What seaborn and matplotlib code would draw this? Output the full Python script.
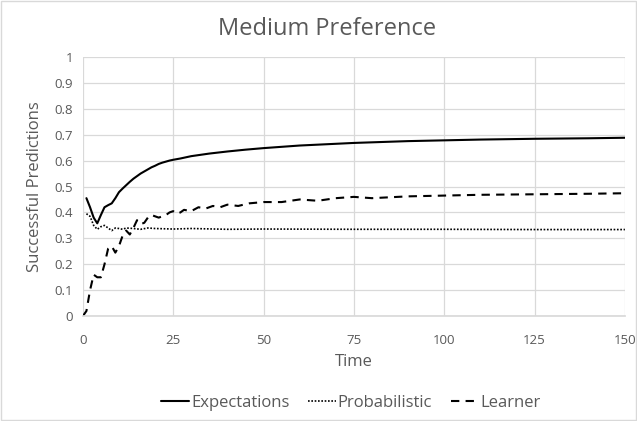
import matplotlib
matplotlib.use("Agg")
import matplotlib.pyplot as plt
import seaborn as sns
import pandas as pd
from matplotlib.lines import Line2D

sns.set_theme(style="white")
plt.rcParams['font.family'] = ['Open Sans', 'DejaVu Sans']

exp_t = [1, 2, 3, 4, 5, 6, 7, 8, 9, 10, 11, 12, 13, 14, 15, 16, 17, 18, 19, 20, 21, 22, 23, 24, 25, 27, 30, 35, 40, 45, 50, 60, 75, 90, 100, 110, 125, 140, 150]
exp_v = [0.455, 0.42, 0.38, 0.358, 0.39, 0.42, 0.428, 0.435, 0.455, 0.478, 0.492, 0.505, 0.518, 0.53, 0.54, 0.55, 0.558, 0.566, 0.574, 0.58, 0.587, 0.592, 0.596, 0.60, 0.603, 0.608, 0.617, 0.627, 0.635, 0.642, 0.648, 0.658, 0.668, 0.675, 0.678, 0.681, 0.684, 0.686, 0.688]

prob_t = [1, 2, 3, 4, 5, 6, 7, 8, 9, 10, 11, 12, 14, 16, 18, 20, 25, 30, 40, 50, 75, 100, 125, 150]
prob_v = [0.395, 0.385, 0.35, 0.335, 0.345, 0.35, 0.34, 0.33, 0.34, 0.338, 0.335, 0.34, 0.338, 0.335, 0.34, 0.338, 0.336, 0.338, 0.335, 0.336, 0.335, 0.335, 0.334, 0.334]

learn_t = [0, 1, 2, 3, 4, 5, 6, 7, 8, 9, 10, 11, 12, 13, 14, 15, 16, 17, 18, 19, 20, 21, 22, 23, 24, 25, 26, 27, 28, 30, 32, 34, 36, 38, 40, 43, 46, 50, 55, 60, 65, 70, 75, 80, 90, 100, 110, 125, 140, 150]
learn_v = [0.0, 0.02, 0.1, 0.16, 0.15, 0.15, 0.2, 0.26, 0.27, 0.245, 0.27, 0.31, 0.33, 0.315, 0.34, 0.37, 0.355, 0.36, 0.38, 0.39, 0.385, 0.38, 0.385, 0.39, 0.40, 0.405, 0.395, 0.40, 0.41, 0.405, 0.42, 0.415, 0.425, 0.42, 0.43, 0.425, 0.435, 0.44, 0.44, 0.45, 0.445, 0.455, 0.46, 0.455, 0.462, 0.465, 0.468, 0.47, 0.472, 0.474]

series_names = ["Expectations", "Probabilistic", "Learner"]

df = pd.concat([
    pd.DataFrame({"Time": exp_t, "Value": exp_v, "Series": "Expectations"}),
    pd.DataFrame({"Time": prob_t, "Value": prob_v, "Series": "Probabilistic"}),
    pd.DataFrame({"Time": learn_t, "Value": learn_v, "Series": "Learner"}),
])

fig = plt.figure(figsize=(6.37, 4.21), dpi=100)
ax = fig.add_axes([0.130, 0.249, 0.851, 0.616])

styles = {
    "Expectations": dict(ls="-", lw=1.5),
    "Probabilistic": dict(ls=(0, (1, 1)), lw=1.2),
    "Learner": dict(ls=(0, (4, 3)), lw=1.5),
}
for name in series_names:
    sub = df[df["Series"] == name]
    sns.lineplot(data=sub, x="Time", y="Value", ax=ax, color="black",
                 linestyle=styles[name]["ls"], linewidth=styles[name]["lw"],
                 estimator=None, sort=True, legend=False)

ax.set_xlim(0, 150)
ax.set_ylim(0, 1)
ax.set_xticks([0, 25, 50, 75, 100, 125, 150])
ax.set_yticks([i / 10 for i in range(11)])
ax.set_yticklabels(["0", "0.1", "0.2", "0.3", "0.4", "0.5", "0.6", "0.7", "0.8", "0.9", "1"])
ax.grid(True, color="#d9d9d9", linewidth=0.9)
ax.set_axisbelow(True)
for s in ["top", "right", "left"]:
    ax.spines[s].set_visible(False)
ax.spines["bottom"].set_color("#d9d9d9")
ax.tick_params(axis="y", length=0, labelsize=9.5, colors="#595959", pad=7)
ax.tick_params(axis="x", length=0, labelsize=9.5, colors="#595959", pad=13)
ax.set_xlabel("Time", fontsize=12, color="#595959", labelpad=5)
ax.set_ylabel("Successful Predictions", fontsize=12, color="#595959", labelpad=8)
fig.text(0.513, 0.931, "Medium Preference", ha="center", va="center", fontsize=17, color="#595959")

handles = [Line2D([], [], color="black", linestyle=styles[n]["ls"], linewidth=styles[n]["lw"]) for n in series_names]
leg = fig.legend(handles, series_names, loc="center", bbox_to_anchor=(0.551, 0.043), ncol=3,
                 frameon=False, fontsize=12, handlelength=1.7, handletextpad=0.1, columnspacing=1.1)
for t in leg.get_texts():
    t.set_color("#595959")

border = plt.Rectangle((0.002, 0.002), 0.996, 0.996, transform=fig.transFigure, fill=False,
                       edgecolor="#d9d9d9", linewidth=1)
fig.patches.append(border)

fig.savefig("out.png", dpi=100)
